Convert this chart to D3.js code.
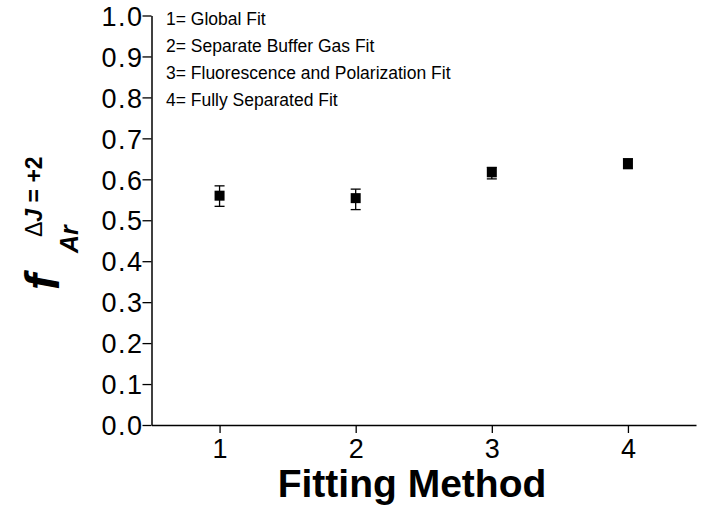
<!DOCTYPE html>
<html>
<head>
<meta charset="utf-8">
<script src="https://cdn.jsdelivr.net/npm/d3@7"></script>
<style>
  body { margin: 0; background: #fff; }
  text { font-family: "Liberation Sans", Arial, sans-serif; fill: #000; }
</style>
</head>
<body>
<svg id="chart" width="706" height="506"></svg>
<script>
// data
var methods = [1, 2, 3, 4];
var fraction = [0.560, 0.554, 0.617, 0.639];
var errUp = [0.024, 0.022, 0.012, 0.011];
var errDown = [0.026, 0.028, 0.016, 0.013];
var yTicks = [0, 0.1, 0.2, 0.3, 0.4, 0.5, 0.6, 0.7, 0.8, 0.9, 1.0];
var legendLines = ["1= Global Fit", "2= Separate Buffer Gas Fit",
  "3= Fluorescence and Polarization Fit", "4= Fully Separated Fit"];

var svg = d3.select("#chart");
var plotLeft = 151.5, plotRight = 696, plotTop = 15.5, plotBottom = 425;
var fontFam = "'Liberation Sans', Arial, sans-serif";

var x = d3.scaleLinear().domain([0.5, 4.5]).range([plotLeft, plotRight]);
var y = d3.scaleLinear().domain([0, 1]).range([plotBottom, plotTop]);

// x axis
var xAxis = svg.append("g")
  .attr("transform", "translate(0," + plotBottom + ")")
  .call(d3.axisBottom(x).tickValues(methods).tickFormat(d3.format("d")).tickSize(8).tickSizeOuter(0));
xAxis.attr("font-family", fontFam);
xAxis.select(".domain").attr("stroke-width", 1.5);
xAxis.selectAll(".tick line").attr("stroke-width", 1.3);
xAxis.selectAll(".tick text").attr("font-size", 27).attr("y", 14).attr("dy", "0.71em");

// y axis
var yAxis = svg.append("g")
  .attr("transform", "translate(" + plotLeft + ",0)")
  .call(d3.axisLeft(y).tickValues(yTicks).tickFormat(d3.format(".1f")).tickSize(9).tickSizeOuter(0));
yAxis.attr("font-family", fontFam);
yAxis.select(".domain").attr("stroke-width", 1.5);
yAxis.selectAll(".tick line").attr("stroke-width", 1.3);
yAxis.selectAll(".tick text").attr("font-size", 27).attr("x", -8).attr("dy", "0.36em")
  .attr("letter-spacing", 1.5);

// x title
svg.append("text")
  .attr("x", 412)
  .attr("y", 497)
  .attr("text-anchor", "middle")
  .attr("font-size", 39)
  .attr("font-weight", "bold")
  .text("Fitting Method");

// y title: f with subscript Ar and superscript ΔJ = +2
var yl = svg.append("g").attr("transform", "translate(59,290) rotate(-90)");
yl.append("text").attr("x", 0).attr("y", 0)
  .attr("font-size", 48).attr("font-weight", "bold").attr("font-style", "italic")
  .text("f");
yl.append("text").attr("x", 37).attr("y", 19)
  .attr("font-size", 25).attr("font-weight", "bold").attr("font-style", "italic")
  .text("Ar");
var sup = yl.append("text").attr("x", 53).attr("y", -17).attr("font-size", 23);
sup.append("tspan").text("\u0394");
sup.append("tspan").attr("font-weight", "bold").attr("font-style", "italic").text("J");
sup.append("tspan").attr("font-weight", "bold").text(" = +2");

// legend text
svg.selectAll(".leg").data(legendLines).enter().append("text")
  .attr("class", "leg")
  .attr("x", 166)
  .attr("y", function(d, i) { return 25 + i * 27; })
  .attr("font-size", 17.5)
  .text(function(d) { return d; });

// error bars
var pts = methods.map(function(m, i) {
  return { m: m, v: fraction[i], hi: fraction[i] + errUp[i], lo: fraction[i] - errDown[i] };
});
var eg = svg.append("g");
eg.selectAll(".stem").data(pts).enter().append("line")
  .attr("x1", function(d) { return x(d.m); }).attr("x2", function(d) { return x(d.m); })
  .attr("y1", function(d) { return y(d.hi); }).attr("y2", function(d) { return y(d.lo); })
  .attr("stroke", "#000").attr("stroke-width", 1.3);
eg.selectAll(".capHi").data(pts).enter().append("line")
  .attr("x1", function(d) { return x(d.m) - 5; }).attr("x2", function(d) { return x(d.m) + 5; })
  .attr("y1", function(d) { return y(d.hi); }).attr("y2", function(d) { return y(d.hi); })
  .attr("stroke", "#000").attr("stroke-width", 1.3);
eg.selectAll(".capLo").data(pts).enter().append("line")
  .attr("x1", function(d) { return x(d.m) - 5; }).attr("x2", function(d) { return x(d.m) + 5; })
  .attr("y1", function(d) { return y(d.lo); }).attr("y2", function(d) { return y(d.lo); })
  .attr("stroke", "#000").attr("stroke-width", 1.3);

// square markers
svg.selectAll(".pt").data(pts).enter().append("rect")
  .attr("x", function(d) { return x(d.m) - 5; })
  .attr("y", function(d) { return y(d.v) - 5; })
  .attr("width", 10).attr("height", 10)
  .attr("fill", "#000");
</script>
</body>
</html>
